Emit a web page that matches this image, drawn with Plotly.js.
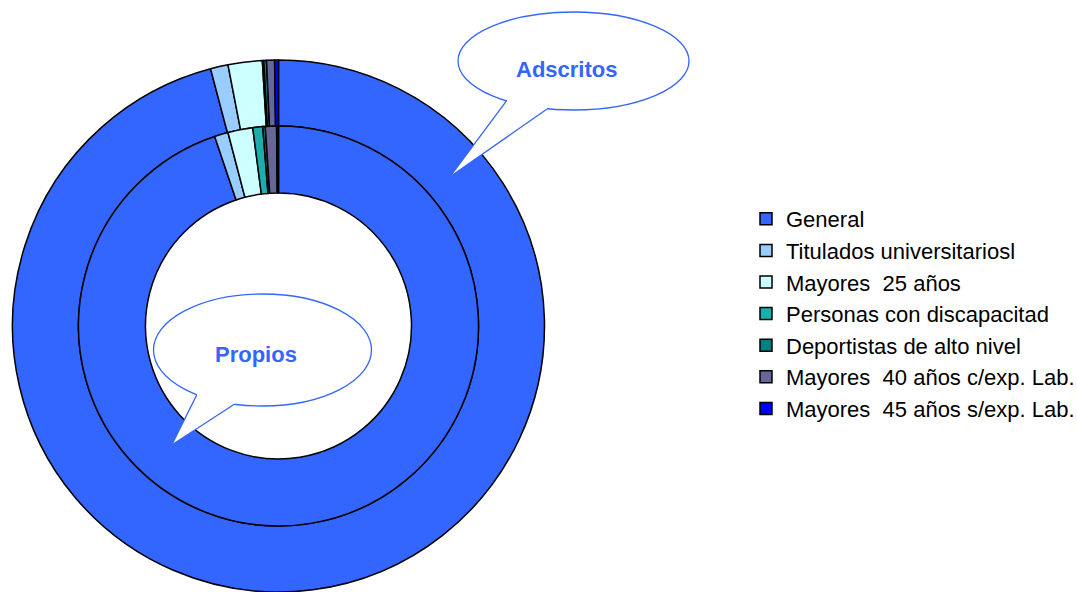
<!DOCTYPE html>
<html>
<head>
<meta charset="utf-8">
<script src="https://cdn.plot.ly/plotly-3.0.1.min.js"></script>
<style>
html,body{margin:0;padding:0;background:#fff;}
#chart{width:1077px;height:592px;}
</style>
</head>
<body>
<div id="chart"></div>
<script>
// ---- data ----
const categories = [
  "General",
  "Titulados universitariosl",
  "Mayores\u00a0 25 años",
  "Personas con discapacitad",
  "Deportistas de alto nivel",
  "Mayores\u00a0 40 años c/exp. Lab.",
  "Mayores\u00a0 45 años s/exp. Lab."
];
const adscritos = [5740, 64, 124, 5, 10, 29, 14];   // outer ring
const propios   = [3780, 44, 80, 32, 8, 36, 6];     // inner ring
const sliceColors = ["#3366FF", "#99CCFF", "#CCFFFF", "#1CADAD", "#008080", "#666699", "#0000FF"];
const ringNames = ["Adscritos", "Propios"];

// ---- layout helpers (pixel -> paper) ----
const W = 1077, H = 592;
const px = x => x / W;
const py = y => 1 - y / H;

const cx = 278.5, cy = 326;
const rOuter = 266, rMid = 200, rHole = 133;

const lineStyle = {color: "#000000", width: 1.5};

const outer = {
  type: "pie", name: ringNames[0], labels: categories, values: adscritos,
  sort: false, direction: "clockwise", rotation: 0,
  hole: rMid / rOuter, textinfo: "none",
  marker: {colors: sliceColors, line: lineStyle},
  domain: {x: [px(cx - rOuter), px(cx + rOuter)], y: [py(cy + rOuter), py(cy - rOuter)]}
};
const inner = {
  type: "pie", name: ringNames[1], labels: categories, values: propios,
  sort: false, direction: "clockwise", rotation: 0,
  hole: rHole / rMid, textinfo: "none",
  marker: {colors: sliceColors, line: lineStyle},
  domain: {x: [px(cx - rMid), px(cx + rMid)], y: [py(cy + rMid), py(cy - rMid)]}
};

// ---- callout bubbles ----
const blue = "#3366FF";
function bubble(ecx, ecy, rx, ry, a, b, tip, ai, bi) {
  return [
    {type: "circle", xref: "paper", yref: "paper", layer: "above",
     x0: px(ecx - rx), x1: px(ecx + rx), y0: py(ecy + ry), y1: py(ecy - ry),
     fillcolor: "#ffffff", line: {color: blue, width: 1.3}},
    {type: "path", xref: "paper", yref: "paper", layer: "above",
     path: `M${px(a[0])},${py(a[1])} L${px(tip[0])},${py(tip[1])} L${px(b[0])},${py(b[1])} L${px(bi[0])},${py(bi[1])} L${px(ai[0])},${py(ai[1])} Z`,
     fillcolor: "#ffffff", line: {width: 0}},
    {type: "line", xref: "paper", yref: "paper", layer: "above",
     x0: px(a[0]), y0: py(a[1]), x1: px(tip[0]), y1: py(tip[1]), line: {color: blue, width: 1.3}},
    {type: "line", xref: "paper", yref: "paper", layer: "above",
     x0: px(tip[0]), y0: py(tip[1]), x1: px(b[0]), y1: py(b[1]), line: {color: blue, width: 1.3}}
  ];
}
const shapes = [].concat(
  bubble(573.5, 61, 115.5, 49, [506.7, 100.7], [546.7, 109.3], [450, 176.7], [508, 96], [548, 104]),
  bubble(262.5, 350, 109, 56, [196.7, 395], [234.3, 404.3], [171.7, 445], [198, 390], [236, 399])
);

const annFont = {family: "Liberation Sans, Arial, sans-serif", size: 22, color: blue};
const annotations = [
  {text: "<b>" + ringNames[0] + "</b>", xref: "paper", yref: "paper", x: px(566), y: py(69),
   xanchor: "center", yanchor: "middle", showarrow: false, font: annFont},
  {text: "<b>" + ringNames[1] + "</b>", xref: "paper", yref: "paper", x: px(256), y: py(354),
   xanchor: "center", yanchor: "middle", showarrow: false, font: annFont}
];

const layout = {
  width: W, height: H,
  margin: {l: 0, r: 0, t: 0, b: 0, pad: 0, autoexpand: false},
  paper_bgcolor: "#ffffff", plot_bgcolor: "#ffffff",
  showlegend: true,
  legend: {
    x: px(746), xanchor: "left", y: py(198), yanchor: "top",
    font: {family: "Liberation Sans, Arial, sans-serif", size: 22, color: "#000000"},
    bgcolor: "rgba(0,0,0,0)", borderwidth: 0, traceorder: "normal"
  },
  shapes: shapes,
  annotations: annotations
};

Plotly.newPlot("chart", [outer, inner], layout, {displayModeBar: false, staticPlot: true});
</script>
</body>
</html>
